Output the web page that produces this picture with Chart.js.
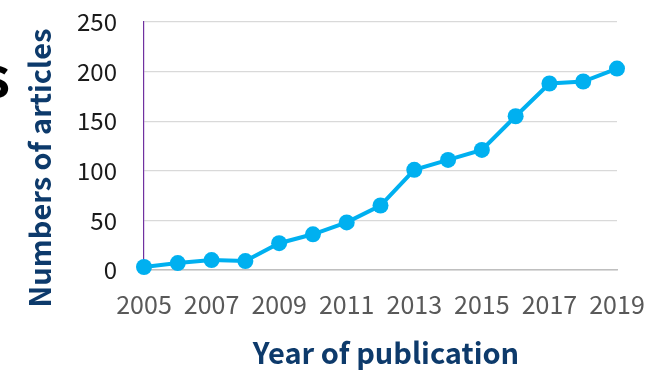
<!DOCTYPE html>
<html>
<head>
<meta charset="utf-8">
<script src="https://cdn.jsdelivr.net/npm/chart.js@4/dist/chart.umd.min.js"></script>
<style>
  html, body { margin: 0; padding: 0; background: #fff; }
  #wrap { width: 664px; height: 371px; }
</style>
</head>
<body>
<div id="wrap"><canvas id="articlesChart" width="664" height="371"></canvas></div>
<script>
// 年度別の論文数
const years = ['2005', '2006', '2007', '2008', '2009', '2010', '2011', '2012',
               '2013', '2014', '2015', '2016', '2017', '2018', '2019'];
const articleCounts = [3, 7, 10, 9, 27, 36, 48, 65, 101, 111, 121, 155, 188, 190, 203];
const yTicks = [0, 50, 100, 150, 200, 250];

const FONT = '"Noto Sans CJK JP", "Noto Sans", sans-serif';
const NAVY = '#0d3a6b';

// 軸タイトルと左端の見出し文字
const titlePlugin = {
    id: 'axisTitles',
    afterDraw(chart) {
        const ctx = chart.ctx;
        ctx.save();
        ctx.fillStyle = NAVY;
        ctx.font = 'bold 29px ' + FONT;
        ctx.textAlign = 'center';
        ctx.textBaseline = 'middle';
        ctx.fillText('Year of publication', 386, 353);
        ctx.translate(40, 168);
        ctx.rotate(-Math.PI / 2);
        ctx.fillText('Numbers of articles', 0, 0);
        ctx.restore();

        ctx.save();
        ctx.fillStyle = '#000';
        ctx.font = 'bold 54px ' + FONT;
        ctx.textAlign = 'right';
        ctx.textBaseline = 'alphabetic';
        ctx.fillText('s', 10, 97);
        ctx.restore();
    }
};

new Chart(document.getElementById('articlesChart'), {
    type: 'line',
    data: {
        labels: years,
        datasets: [{
            data: articleCounts,
            borderColor: '#00b0f0',
            backgroundColor: '#00b0f0',
            borderWidth: 4,
            pointRadius: 8,
            pointBorderWidth: 0,
            pointBackgroundColor: '#00b0f0',
            tension: 0,
            clip: false
        }]
    },
    options: {
        responsive: false,
        animation: false,
        layout: { padding: { top: 22, right: 47, left: 0, bottom: 0 } },
        plugins: {
            legend: { display: false },
            tooltip: { enabled: false }
        },
        scales: {
            x: {
                offset: false,
                grid: { display: false },
                border: { display: true, color: '#bfbfbf', width: 1.5 },
                ticks: {
                    autoSkip: false,
                    maxRotation: 0,
                    padding: 11,
                    color: '#595959',
                    font: { family: FONT, size: 25 },
                    callback: (v, i) => (i % 2 === 0 ? years[i] : '')
                },
                afterFit: s => { s.height = 101; }
            },
            y: {
                min: 0,
                max: 250,
                afterBuildTicks: s => { s.ticks = yTicks.map(v => ({ value: v })); },
                grid: { color: '#d9d9d9', lineWidth: 1.3, drawTicks: false },
                border: { display: true, color: '#7030a0', width: 1.2 },
                ticks: {
                    padding: 27,
                    color: '#1a1a1a',
                    font: { family: FONT, size: 24 }
                },
                afterFit: s => {
                    s.width = 144;
                    s.paddingTop = 0;
                    s.paddingBottom = 0;
                }
            }
        }
    },
    plugins: [titlePlugin]
});
</script>
</body>
</html>
